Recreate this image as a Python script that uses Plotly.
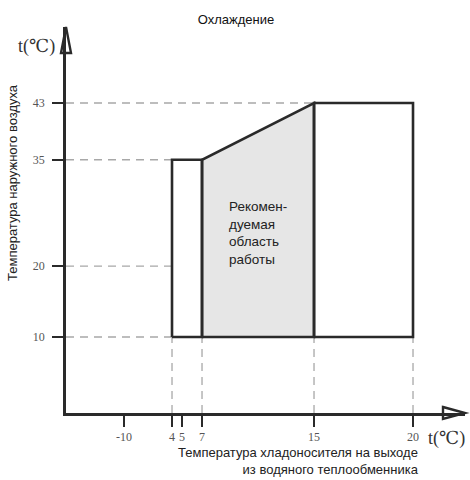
import numpy as np
import plotly.graph_objects as go

# ---------------- data ----------------
title_text = "Охлаждение"
x_tick_values = [-10, 4, 5, 7, 15, 20]
y_tick_values = [10, 20, 35, 43]

# operating envelope (water outlet temp, outdoor air temp)
left_zone_x = [4, 4, 7, 7, 4]
left_zone_y = [10, 35, 35, 10, 10]
recommended_x = [7, 7, 15, 15, 7]
recommended_y = [10, 35, 43, 10, 10]
right_zone_x = [15, 15, 20, 20, 15]
right_zone_y = [10, 43, 43, 10, 10]

recommended_label = "Рекомен-<br>дуемая<br>область<br>работы"
x_title = "Температура хладоносителя на выходе<br>из водяного теплообменника"
y_title = "Температура наружного воздуха"
unit_label = "t(℃)"

# ---------------- schematic (non-linear) x scale ----------------
# the original diagram uses a broken, non-uniform x axis
X_SCALE_DOMAIN = [-27, -10, 4, 7, 15, 20, 22.6]
X_SCALE_RANGE = [0.0, 0.1454, 0.2657, 0.3409, 0.6216, 0.8697, 1.0]


def xs(v):
    return np.interp(np.asarray(v, dtype=float), X_SCALE_DOMAIN, X_SCALE_RANGE)


Y_RANGE = [-0.72, 53.72]
X_MIN = X_SCALE_DOMAIN[0]

W, H = 470, 480
ML, MR, MT, MB = 66, 5, 27, 67
PW, PH = W - ML - MR, H - MT - MB

OUTLINE = "#2a2a2a"
DASH = "#a8a8a8"
FILL = "#e6e6e6"

fig = go.Figure()

# dashed guide lines (horizontal)
guide_h = [(43, 15), (35, 4), (20, 4), (10, 4)]
for yv, xend in guide_h:
    fig.add_trace(go.Scatter(
        x=xs([X_MIN, xend]), y=[yv, yv], mode="lines",
        line=dict(color=DASH, width=1.3, dash="8px,6px"),
        hoverinfo="skip", showlegend=False))
# dashed guide lines (vertical)
for xv in [4, 7, 15, 20]:
    fig.add_trace(go.Scatter(
        x=xs([xv, xv]), y=[Y_RANGE[0], 10], mode="lines",
        line=dict(color=DASH, width=1.3, dash="8px,6px"),
        hoverinfo="skip", showlegend=False))

# recommended zone (filled)
fig.add_trace(go.Scatter(
    x=xs(recommended_x), y=recommended_y, mode="lines", fill="toself",
    fillcolor=FILL, line=dict(color=OUTLINE, width=2.6),
    hoverinfo="skip", showlegend=False))
# other zones
for zx, zy in [(left_zone_x, left_zone_y), (right_zone_x, right_zone_y)]:
    fig.add_trace(go.Scatter(
        x=xs(zx), y=zy, mode="lines",
        line=dict(color=OUTLINE, width=2.6),
        hoverinfo="skip", showlegend=False))

tick_font = dict(family="Liberation Serif, Times New Roman, serif", size=12, color="#555555")

fig.update_xaxes(
    range=[0, 1], showgrid=False, zeroline=False,
    showline=True, linecolor=OUTLINE, linewidth=2.6,
    ticks="outside", ticklen=11, tickwidth=2.4, tickcolor=OUTLINE,
    tickvals=xs(x_tick_values), ticktext=[str(v) for v in x_tick_values],
    tickfont=tick_font, fixedrange=True)
fig.update_yaxes(
    range=Y_RANGE, showgrid=False, zeroline=False,
    showline=True, linecolor=OUTLINE, linewidth=2.6,
    ticks="outside", ticklen=11, tickwidth=2.4, tickcolor=OUTLINE,
    tickvals=y_tick_values, ticktext=[str(v) for v in y_tick_values],
    tickfont=tick_font, ticklabelstandoff=5, fixedrange=True)


def px_to_paper(px, py):
    return (px - ML) / PW, (H - MB - py) / PH


# open triangle arrowheads
ax0, ay0 = px_to_paper(61, 53)
ax1, ay1 = px_to_paper(66, 27)
ax2, ay2 = px_to_paper(71, 53)
bx0, by0 = px_to_paper(443, 407)
bx1, by1 = px_to_paper(465, 413)
bx2, by2 = px_to_paper(443, 419)
for path in [f"M {ax0} {ay0} L {ax1} {ay1} L {ax2} {ay2} Z",
             f"M {bx0} {by0} L {bx1} {by1} L {bx2} {by2} Z"]:
    fig.add_shape(type="path", path=path, xref="paper", yref="paper",
                  line=dict(color=OUTLINE, width=2.4), fillcolor="rgba(0,0,0,0)")

sans = "Liberation Sans, Arial, sans-serif"
serif = "Liberation Serif, DejaVu Serif, serif"

# recommended zone label
fig.add_annotation(x=xs(8.8), y=29.8, xref="x", yref="y", text=recommended_label,
                   showarrow=False, xanchor="left", yanchor="top", align="left",
                   font=dict(family=sans, size=13.5, color="#222222"))

# axis titles
tx, ty = px_to_paper(12, 183)
fig.add_annotation(x=tx, y=ty, xref="paper", yref="paper", text=y_title,
                   textangle=-90, showarrow=False, xanchor="center", yanchor="middle",
                   font=dict(family=sans, size=13, color="#222222"))
tx, ty = px_to_paper(421, 461)
fig.add_annotation(x=tx, y=ty, xref="paper", yref="paper", text=x_title,
                   showarrow=False, xanchor="right", yanchor="middle", align="right",
                   font=dict(family=sans, size=13, color="#222222"))

# unit labels
tx, ty = px_to_paper(36, 47)
fig.add_annotation(x=tx, y=ty, xref="paper", yref="paper", text=unit_label,
                   showarrow=False, xanchor="center", yanchor="middle",
                   font=dict(family=serif, size=18, color="#333333"))
tx, ty = px_to_paper(467, 438)
fig.add_annotation(x=tx, y=ty, xref="paper", yref="paper", text=unit_label,
                   showarrow=False, xanchor="right", yanchor="middle",
                   font=dict(family=serif, size=18, color="#333333"))

fig.update_layout(
    width=W, height=H,
    margin=dict(l=ML, r=MR, t=MT, b=MB),
    paper_bgcolor="white", plot_bgcolor="white",
    title=dict(text=title_text, x=236 / W, xanchor="center", y=1 - 19 / H,
               yanchor="middle", font=dict(family=sans, size=13, color="#111111")),
    showlegend=False,
)

fig.write_html("out.html",
               config={"displayModeBar": False},
               post_script="document.body.style.margin='0';document.body.style.overflow='hidden';")
